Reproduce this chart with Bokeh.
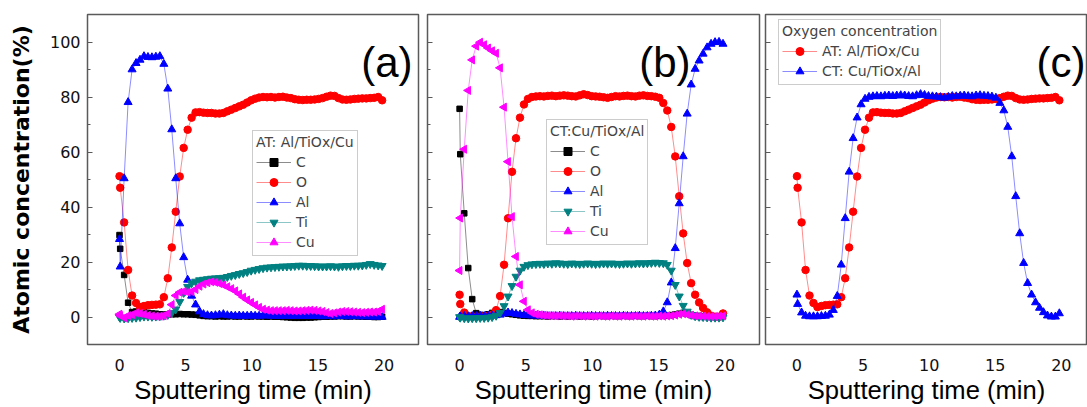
import math
from bokeh.plotting import figure
from bokeh.layouts import row
from bokeh.models import Range1d, SingleIntervalTicker, Label, Legend, LegendItem, CustomJSTickFormatter
from bokeh.embed import file_html
from bokeh.resources import INLINE

# Sputtering time (min)
TIME = [0.0, 0.05, 0.35, 0.65, 0.95, 1.25, 1.55, 1.85, 2.15, 2.45, 2.75,
        3.05, 3.35, 3.65, 3.95, 4.25, 4.55, 4.85, 5.15, 5.45, 5.75, 6.05,
        6.35, 6.65, 6.95, 7.25, 7.55, 7.85, 8.15, 8.45, 8.75, 9.05, 9.35,
        9.65, 9.95, 10.25, 10.55, 10.85, 11.15, 11.45, 11.75, 12.05, 12.35, 12.65,
        12.95, 13.25, 13.55, 13.85, 14.15, 14.45, 14.75, 15.05, 15.35, 15.65, 15.95,
        16.25, 16.55, 16.85, 17.15, 17.45, 17.75, 18.05, 18.35, 18.65, 18.95, 19.25, 19.55, 19.85]

# Panel (a): AT: Al/TiOx/Cu
A_C = [29.8, 24.8, 15.3, 5.2, 1.8, 2.0, 2.0, 1.8, 1.5, 1.3, 1.2,
       1.0, 0.9, 0.9, 1.0, 1.0, 1.1, 1.0, 1.0, 0.9, 0.8, 0.6,
       0.4, 0.3, 0.3, 0.2, 0.3, 0.2, 0.2, 0.3, 0.2, 0.2, 0.3,
       0.2, 0.2, 0.3, 0.2, 0.2, 0.1, 0.2, 0.1, 0.1, 0.0, -0.1,
       -0.2, -0.3, -0.3, -0.3, -0.2, -0.2, -0.1, 0.0, 0.1, 0.1, 0.2,
       0.2, 0.3, 0.3, 0.2, 0.2, 0.3, 0.2, 0.2, 0.1, 0.1, 0.0, 0.0, 0.1]
A_O = [51.2, 47.0, 34.4, 17.1, 7.8, 5.1, 3.6, 4.0, 4.3, 4.4, 4.5,
       4.6, 7.2, 14.1, 25.3, 38.3, 51.1, 61.5, 68.1, 72.5, 74.4, 74.5,
       74.3, 74.2, 74.2, 74.0, 74.0, 74.2, 74.8, 75.4, 76.0, 76.6, 77.2,
       78.0, 78.8, 79.4, 79.8, 80.0, 79.9, 80.0, 79.8, 80.0, 80.1, 79.8,
       79.6, 79.2, 79.0, 78.9, 79.0, 79.0, 79.1, 79.3, 79.6, 80.1, 80.5,
       80.4, 79.6, 79.1, 79.0, 79.1, 79.3, 79.4, 79.5, 79.5, 79.6, 79.7, 80.0, 78.8]
A_AL = [28.3, 18.3, 50.4, 78.1, 90.0, 92.3, 93.5, 94.8, 94.5, 94.4, 94.6,
        94.8, 92.0, 83.0, 68.2, 50.4, 34.0, 21.7, 13.5, 7.7, 4.5, 2.0,
        1.0, 0.6, 0.5, 0.6, 0.8, 1.0, 0.6, 0.5, 0.4, 0.5, 0.4,
        0.4, 0.5, 0.4, 0.4, 0.5, 0.5, 0.4, 0.4, 0.3, 0.4, 0.4,
        0.3, 0.4, 0.4, 0.3, 0.3, 0.4, 0.3, 0.3, 0.2, 0.3, 0.3,
        0.2, 0.3, 0.3, 0.2, 0.2, 0.3, 0.2, 0.2, 0.2, 0.1, 0.1, 0.1, 0.0]
A_TI = [0.0, -0.3, -0.5, -0.4, -0.3, -0.2, 0.0, 0.2, 0.2, 0.1, 0.2,
        0.3, 0.5, 0.8, 1.5, 2.8, 5.5, 8.8, 11.0, 12.3, 12.9, 13.4,
        13.6, 13.8, 14.0, 14.1, 14.2, 14.3, 14.6, 15.0, 15.3, 15.7, 16.0,
        16.4, 16.9, 17.2, 17.5, 17.8, 18.0, 18.1, 18.2, 18.3, 18.4, 18.4,
        18.5, 18.6, 18.7, 18.7, 18.6, 18.6, 18.5, 18.4, 18.4, 18.4, 18.5,
        18.4, 18.3, 18.5, 18.6, 18.6, 18.7, 18.7, 18.8, 19.0, 19.3, 19.0, 18.8, 18.6]
A_CU = [1.0, 0.5, -0.3, 0.5, 0.8, 1.5, 1.3, 1.0, 0.6, 0.4, 0.3,
        0.3, 0.5, 1.2, 4.5, 7.8, 9.0, 9.3, 9.0, 9.2, 10.0, 11.2,
        12.0, 12.5, 12.8, 12.6, 12.2, 11.7, 11.0, 10.3, 9.5, 8.4, 7.2,
        6.2, 5.3, 4.4, 3.5, 2.8, 2.5, 2.3, 2.3, 2.3, 2.3, 2.4,
        2.3, 2.2, 2.2, 2.3, 2.4, 2.5, 2.4, 2.2, 2.0, 1.6, 1.3,
        1.5, 1.8, 2.0, 2.0, 1.9, 1.8, 1.7, 1.6, 1.7, 1.8, 1.8, 2.0, 2.8]

# Panel (b): CT: Cu/TiOx/Al
B_C = [75.7, 59.2, 37.7, 17.8, 6.5, 1.4, 0.8, 0.6, 1.0, 1.5, 1.8,
       1.8, 1.5, 1.2, 1.0, 0.8, 0.6, 0.5, 0.4, 0.4, 0.3, 0.3,
       0.3, 0.2, 0.3, 0.3, 0.2, 0.3, 0.2, 0.3, 0.3, 0.2, 0.3,
       0.3, 0.2, 0.3, 0.4, 0.3, 0.3, 0.4, 0.3, 0.3, 0.4, 0.3,
       0.3, 0.4, 0.3, 0.3, 0.4, 0.3, 0.3, 0.4, 0.4, 0.5, 0.7,
       0.9, 1.2, 1.5, 1.3, 0.8, 0.5, 0.4, 0.3, 0.3, 0.2, 0.2, 0.2, 0.3]
B_O = [8.1, 4.7, 1.6, 0.4, 0.2, 0.2, 0.2, 0.3, 0.4, 0.8, 2.5,
       7.6, 19.0, 35.9, 52.8, 65.0, 72.5, 77.3, 79.3, 80.0, 80.2, 80.3,
       80.2, 80.4, 80.5, 80.3, 80.5, 80.6, 80.5, 80.3, 80.2, 80.6, 81.0,
       80.7, 80.3, 80.2, 80.1, 79.9, 79.7, 80.0, 80.3, 80.2, 80.4, 80.5,
       80.3, 80.2, 80.5, 80.6, 80.4, 80.3, 80.1, 79.7,
       77.8, 75.1, 69.1, 58.4, 43.9, 30.4, 19.6, 12.3, 8.1, 5.3, 3.3, 1.7, 0.5, 0.1, 0.1, 1.3]
B_AL = [0.0, 0.2, 0.3, 0.2, 0.3, 0.3, 0.4, 0.3, 0.4, 0.5, 0.6,
        0.8, 1.2, 1.6, 1.4, 1.1, 0.9, 0.7, 0.6, 0.5, 0.5, 0.4,
        0.4, 0.3, 0.3, 0.3, 0.4, 0.3, 0.3, 0.3, 0.4, 0.3, 0.3,
        0.3, 0.4, 0.3, 0.3, 0.3, 0.4, 0.3, 0.3, 0.3, 0.4, 0.3,
        0.3, 0.3, 0.4, 0.3, 0.3, 0.4, 0.5, 0.8,
        2.0, 5.3, 12.5, 25.0, 41.3, 58.4, 73.9, 84.5, 90.2, 93.2, 95.7, 98.0, 99.3, 99.9, 100.0, 99.3]
B_TI = [0.0, -0.2, -0.4, -0.5, -0.4, -0.4, -0.3, -0.3, -0.2, 0.0, 0.5,
        1.5, 4.0, 7.5, 11.3, 14.7, 16.9, 18.3, 18.9, 19.2, 19.3, 19.4,
        19.3, 19.5, 19.4, 19.6, 19.5, 19.4, 19.3, 19.5, 19.4, 19.3, 19.4,
        19.5, 19.4, 19.3, 19.4, 19.5, 19.4, 19.5, 19.4, 19.3, 19.4, 19.5,
        19.4, 19.5, 19.6, 19.5, 19.6, 19.7, 19.8, 19.7,
        19.6, 19.0, 16.9, 11.7, 7.5, 4.1, 2.0, 0.8, 0.3, 0.1, 0.0, -0.1, -0.2, -0.2, -0.2, -0.1]
B_CU = [16.9, 36.0, 61.0, 82.4, 93.5, 98.5, 99.9, 99.0, 97.8, 96.8, 95.9,
        90.6, 76.3, 56.5, 36.5, 22.0, 11.7, 5.7, 2.6, 1.5, 1.0, 0.8,
        0.6, 0.5, 0.5, 0.4, 0.5, 0.4, 0.4, 0.3, 0.4, 0.4, 0.3,
        0.4, 0.3, 0.3, 0.4, 0.3, 0.3, 0.4, 0.3, 0.3, 0.4, 0.3,
        0.3, 0.4, 0.3, 0.3, 0.4, 0.3, 0.3, 0.4,
        0.3, 0.4, 0.5, 0.7, 1.0, 1.2, 0.9, 0.6, 0.4, 0.3, 0.3, 0.2, 0.2, 0.2, 0.3, 0.4]

ELEMENTS = ["C", "O", "Al", "Ti", "Cu"]
COLORS = {"C": "#000000", "O": "#FF0000", "Al": "#0000FF", "Ti": "#008080", "Cu": "#FF00FF"}
MARKERS = {"C": ("square", 5.5, 0.0), "O": ("circle", 7.5, 0.0), "Al": ("triangle", 8, 0.0),
           "Ti": ("inverted_triangle", 8, 0.0), "Cu": ("triangle", 8, math.pi / 2)}

TICK_FONT = "DejaVu Sans"
X_TITLE = "Sputtering time (min)"
Y_TITLE = "Atomic concentration(%)"


def base(width, left, right, x_start, x_end, show_y):
    p = figure(width=width, height=407, x_range=Range1d(x_start, x_end), y_range=Range1d(-10, 110),
               output_backend="svg", toolbar_location=None,
               min_border_left=left, min_border_right=right, min_border_top=14, min_border_bottom=63)
    p.xgrid.visible = False
    p.ygrid.visible = False
    p.outline_line_color = "#5a5a5a"
    p.outline_line_width = 1.5
    p.border_fill_color = "white"
    xa = p.xaxis[0]
    xa.ticker = SingleIntervalTicker(interval=5, num_minor_ticks=0)
    xa.axis_line_color = None
    xa.major_tick_line_color = None
    xa.minor_tick_line_color = None
    xa.major_tick_out = 0
    xa.major_label_text_font = TICK_FONT
    xa.major_label_text_font_size = "16px"
    xa.major_label_text_color = "#111111"
    xa.major_label_standoff = 14
    xa.axis_label = X_TITLE
    xa.axis_label_text_font = "Liberation Sans"
    xa.axis_label_text_font_size = "25.6px"
    xa.axis_label_text_font_style = "normal"
    xa.axis_label_text_color = "#000000"
    xa.axis_label_standoff = 2
    ya = p.yaxis[0]
    ya.ticker = SingleIntervalTicker(interval=20, num_minor_ticks=2)
    ya.axis_line_color = None
    ya.major_tick_in = 5
    ya.major_tick_out = 0
    ya.minor_tick_in = 3
    ya.minor_tick_out = 0
    ya.major_tick_line_color = "#5a5a5a"
    ya.minor_tick_line_color = "#5a5a5a"
    ya.major_tick_line_width = 1.2
    ya.minor_tick_line_width = 1.2
    if show_y:
        ya.major_label_text_font = TICK_FONT
        ya.major_label_text_font_size = "16px"
        ya.major_label_text_color = "#111111"
        ya.major_label_standoff = 7
        ya.axis_label = Y_TITLE
        ya.axis_label_text_font = "DejaVu Sans"
        ya.axis_label_text_font_size = "22px"
        ya.axis_label_text_font_style = "bold"
        ya.axis_label_text_color = "#000000"
        ya.axis_label_standoff = 13
    else:
        ya.formatter = CustomJSTickFormatter(code="return ''")
        ya.major_label_standoff = 0
    return p


def series(p, t, y, el):
    color = COLORS[el]
    marker, size, angle = MARKERS[el]
    l = p.line(t, y, line_color=color, line_alpha=0.45, line_width=1)
    s = p.scatter(t, y, marker=marker, size=size, angle=angle, fill_color=color, line_color=color)
    return [l, s]


def legend(p, items, title, loc):
    lg = Legend(items=items, location=loc, title=title, margin=0, padding=3,
                title_text_font=TICK_FONT, title_text_font_size="14px", title_text_font_style="normal",
                title_standoff=2, label_text_font=TICK_FONT, label_text_font_size="14px",
                label_standoff=5, label_height=19, glyph_height=20, glyph_width=35, spacing=0,
                border_line_color="#9a9a9a", border_line_width=1, background_fill_alpha=1.0)
    p.add_layout(lg)


def panel_label(p, text, x):
    p.add_layout(Label(x=x, y=282, x_units="screen", y_units="screen", text=text,
                       text_align="right", text_baseline="alphabetic",
                       text_font="Liberation Sans", text_font_size="42px", text_color="#000000"))


# (a)
pa = base(422, 87, 4, -2.42, 22.6, True)
data_a = {"C": A_C, "O": A_O, "Al": A_AL, "Ti": A_TI, "Cu": A_CU}
items_a = [LegendItem(label=el, renderers=series(pa, TIME, data_a[el], el)) for el in ELEMENTS]
legend(pa, items_a, "AT: Al/TiOx/Cu", (165, 88))
panel_label(pa, "(a)", 325)

# (b)
pb = base(341, 5, 4, -2.42, 22.6, False)
data_b = {"C": B_C, "O": B_O, "Al": B_AL, "Ti": B_TI, "Cu": B_CU}
items_b = [LegendItem(label=el, renderers=series(pb, TIME, data_b[el], el)) for el in ELEMENTS]
legend(pb, items_b, "CT:Cu/TiOx/Al", (119, 99))
panel_label(pb, "(b)", 263)

# (c)
pc = base(324, 2, 0, -2.38, 21.98, False)
r_at = series(pc, TIME, A_O, "O")
r_ct = series(pc, TIME, B_O, "Al")
legend(pc, [LegendItem(label="AT: Al/TiOx/Cu", renderers=r_at),
            LegendItem(label="CT: Cu/TiOx/Al", renderers=r_ct)],
       "Oxygen concentration", (13, 259))
panel_label(pc, "(c)", 320)

layout = row(pa, pb, pc)
open("out.html", "w").write(file_html(layout, INLINE))
